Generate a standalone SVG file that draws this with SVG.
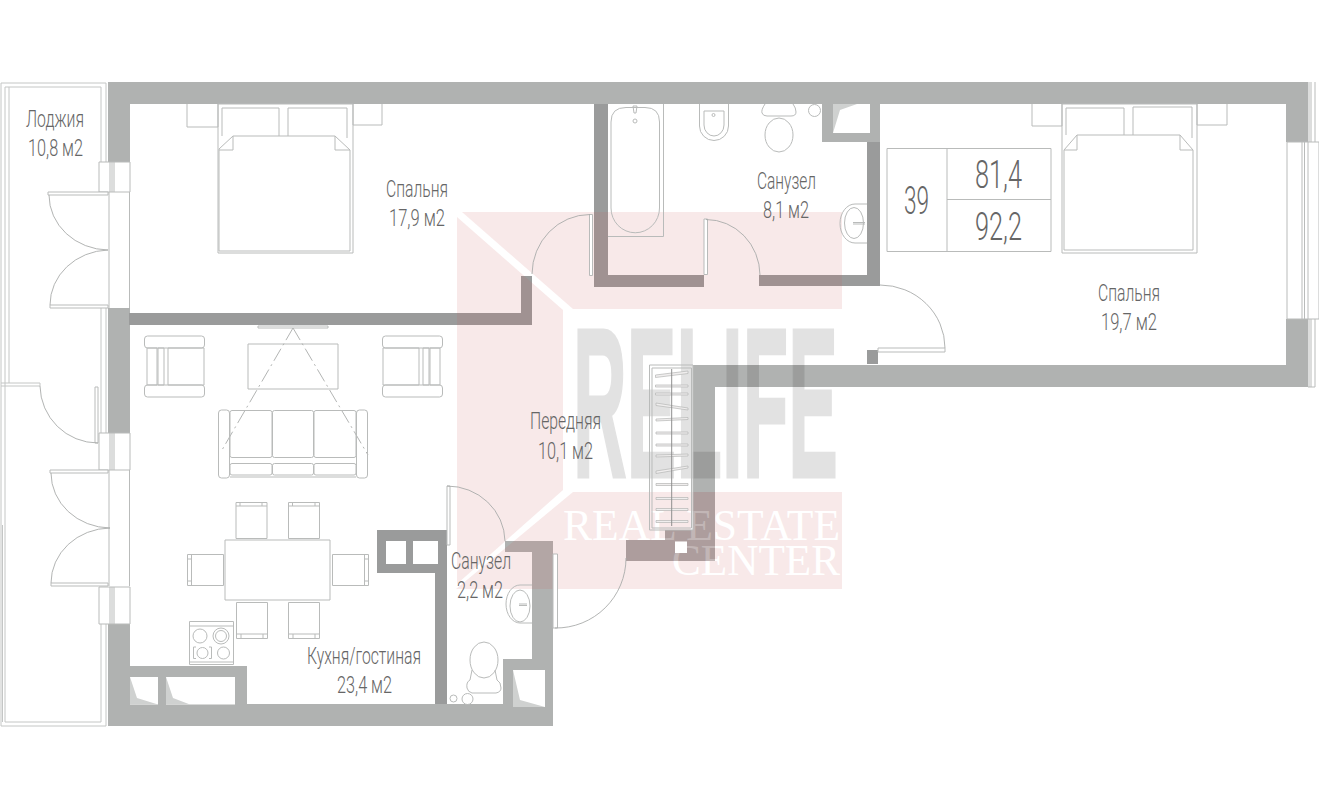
<svg xmlns="http://www.w3.org/2000/svg" width="1319" height="809" viewBox="0 0 1319 809">
<defs>
<clipPath id="lowerBand"><rect x="620" y="492" width="100" height="75"/></clipPath>
</defs>
<style>
.w{fill:#b0b2b1}
.d{fill:#9a9b9b}
.l{fill:#cfd1d0}
.f{fill:none;stroke:#b9bbba;stroke-width:1}
.f2{fill:none;stroke:#c4c6c5;stroke-width:1}
.p{fill:#fff;stroke:#b9bbba;stroke-width:1}
.a{fill:none;stroke:#a9abaa;stroke-width:.9}
.h{fill:#f0eeee;stroke:#b4b6b5;stroke-width:.7}
.t{font-family:Roboto,"Liberation Sans",sans-serif;font-weight:300;font-size:24px;fill:#666}
.n{font-family:Roboto,"Liberation Sans",sans-serif;font-weight:300;font-size:39px;fill:#666}
.s{font-family:"Liberation Serif",serif;font-size:45px;fill:#fff}
</style>
<rect width="1319" height="809" fill="#fff"/>
<g id="walls">
<path class="w" d="M108 82H1308V142H1286V104H130V162H108ZM108 308H130V433H108ZM108 624H130V666H247V704H503V659H532V552H505V541H553V726H108ZM1286 319H1308V387H693V365H1286Z"/>
<path class="w" d="M822 104H880V142H822Z"/>
<path class="d" d="M129 313H521V276H532V325H129Z"/>
<path class="d" d="M594 104H608V275H704V287H594Z"/>
<path class="d" d="M759 275H867V142H880V286H759Z"/>
<path class="d" d="M867 350H878V364H867Z"/>
<path class="d" fill-rule="evenodd" d="M377 530H447V704H435V573H377ZM386 541V564H406V541ZM413 541V564H438V541Z"/>
<path class="w" fill-rule="evenodd" d="M693 365H715V561H626V540H665V530H693ZM675 541.500V553H687V541.500Z"/>
</g>
<g id="shafts">
<path fill="#fff" d="M130 677H158V704.500H130ZM166 677H235V704.500H166ZM513 670H545V707H513ZM833 104H870V133H833Z"/>
<path class="l" d="M130 677L137 698L158 704.500H130ZM166 677L173 698L190 704.500H166ZM513 670L520 700L545 707H513ZM833 104H857L840 110L833 133Z"/>
</g>
<g id="watermark">
<path fill="#c85a5a" opacity=".135" d="M462 212H842V309H573ZM457 217L563 310V490L457 584ZM573 492H842V589H456Z"/>
<text transform="translate(573 476.500) scale(.34 1)" font-family="Liberation Sans,sans-serif" font-weight="700" font-size="214" fill="#000" stroke="#000" stroke-width="3" opacity=".11" textLength="779" lengthAdjust="spacingAndGlyphs">RELIFE</text>
<text class="s" transform="translate(563 540) scale(.93 1)" textLength="298" lengthAdjust="spacingAndGlyphs">REAL ESTATE</text>
<text class="s" transform="translate(672 575) scale(.96 1)" textLength="175" lengthAdjust="spacingAndGlyphs">CENTER</text>
<path clip-path="url(#lowerBand)" fill="#aa9a9a" opacity=".72" d="M693 365H715V561H626V540H665V530H693Z"/>
<path fill="#fff" d="M675 541.500H687V553H675Z"/>
</g>
<g id="loggia">
<path class="f2" d="M106 162V83H1V726H106V624M101 162V87H5V722H101V624M106 308V433M101 308V433M9 87V383M1 383H40V386H1M2.500 525V722"/>
<path class="f" d="M95 387H98V443H95Z"/>
<path class="a" d="M40 386A58 58 0 0 0 98 443"/>
</g>
<g id="balcony-doors">
<path class="f" d="M109 192V308M109 470V586M129.500 192V308M129.500 470V586"/>
<path class="f" d="M99 162H130V192H99ZM110 162V192M112 162V192M114 162V192M99 433H130V470H99ZM110 433V470M112 433V470M114 433V470M99 587H130V624H99ZM110 587V624M112 587V624M114 587V624"/>
<path class="p" d="M48 192H108V195H48ZM50 305H108V308H50ZM50 470H108V473H50ZM51 583H108V586H51Z"/>
<path class="a" d="M49 195A60 55 0 0 0 108 250A60 55 0 0 0 50 305M51 473A60 55 0 0 0 110 528A60 55 0 0 0 51 583"/>
</g>
<g id="bedroom-1">
<path class="f" d="M218 104H353V253H218ZM219 149L233 136H335L350 150V251H219ZM233 136V150H219M335 136V150H350M222 136V108H279V136M288 136V108H347V138M218 104V127H187V104M353 104V125H382V104"/>
</g>
<g id="bedroom-2">
<path class="f" d="M1062 104H1197V253H1062ZM1064 150L1077 135H1180L1193 150V250H1064ZM1077 135V150H1064M1180 135V150H1193M1066 135V108H1124V135M1133 135V107H1192V138M1062 104V126H1032V104M1197 104V125H1227V104"/>
</g>
<g id="east-window">
<path class="f" d="M1287 142H1319V319H1287ZM1302 142V319M1304.500 142V319M1308 142V319M1309 82V142M1311 82V142M1315 82V142M1309 319V387M1311 319V387M1315 319V387M1308 387H1315"/>
</g>
<g id="info-table">
<path class="f" d="M887 148.500H1051V251.500H887ZM947 148.500V251.500M947 199.500H1051"/>
<text class="n" transform="translate(904 214) scale(.57 1)" textLength="44" lengthAdjust="spacingAndGlyphs">39</text>
<text class="n" transform="translate(975 188) scale(.64 1)" textLength="73.400" lengthAdjust="spacingAndGlyphs">81,4</text>
<text class="n" transform="translate(975 240) scale(.64 1)" textLength="73.400" lengthAdjust="spacingAndGlyphs">92,2</text>
</g>
<g id="living">
<path class="f" d="M258 326H328V328H258ZM248 344H338V389H248Z"/>
<path class="a" stroke-dasharray="14 4 2 4" d="M293 328L222 450M293 328L368 455"/>
<g id="armchair-1" class="f">
<rect x="144.500" y="336" width="60" height="12" rx="3"/><rect x="144.500" y="385" width="60" height="12" rx="3"/>
<path d="M147 348H157V385H147ZM158 348H164V385H158ZM168 348H204V385H168Z"/>
</g>
<g id="armchair-2" class="f">
<rect x="382.500" y="336" width="60" height="12" rx="3"/><rect x="382.500" y="385" width="60" height="12" rx="3"/>
<path d="M440 348H430V385H440ZM429 348H423V385H429ZM419 348H383V385H419Z"/>
</g>
<g id="sofa" class="f">
<rect x="218.500" y="410" width="11" height="68" rx="3"/><rect x="356.500" y="410" width="11" height="68" rx="3"/>
<rect x="230" y="410.500" width="42" height="47" rx="2"/><rect x="272.500" y="410.500" width="41" height="47" rx="2"/><rect x="314" y="410.500" width="42" height="47" rx="2"/>
<rect x="230" y="463.500" width="42" height="11.500" rx="2"/><rect x="272.500" y="463.500" width="41" height="11.500" rx="2"/><rect x="314" y="463.500" width="42" height="11.500" rx="2"/>
<path d="M230 477H356"/>
</g>
<g id="dining" class="f">
<path d="M225 540H330V600H225Z"/>
<path d="M236 502.500H267V538.500H236ZM236 506H267M240 502.500V506M262 502.500V506M288.500 502.500H319.500V538.500H288.500ZM288.500 506H319.500M292.500 502.500V506M315 502.500V506"/>
<path d="M236.500 602.500H267.500V638.500H236.500ZM236.500 634H267.500M241 634V638.500M263 634V638.500M288.500 602.500H319.500V638.500H288.500ZM288.500 634H319.500M293 634V638.500M315 634V638.500"/>
<path d="M187.500 554.500H223.500V585.500H187.500ZM191.500 554.500V585.500M187.500 559H191.500M187.500 581H191.500M332.500 554.500H368.500V585.500H332.500ZM364.500 554.500V585.500M364.500 559H368.500M364.500 581H368.500"/>
</g>
<g id="stove" class="f">
<path d="M189.500 621.500H233.500V664.500H189.500ZM189.500 626H233.500M189.500 662H233.500M196 647H193.500V658.500H196M209 647H211.500V658.500H209"/>
<circle cx="200" cy="636" r="7"/><circle cx="221" cy="636" r="8"/><circle cx="221" cy="636" r="5.500"/><circle cx="202.500" cy="653" r="5.500"/><circle cx="223.500" cy="653" r="6"/>
</g>
</g>
<g id="small-bath">
<path class="p" d="M447 486H450V545H447Z"/>
<path class="a" d="M447 486A58 56 0 0 1 505 541"/>
<path class="p" d="M553 554H557.500V628H553Z"/>
<path class="a" d="M555 628A70 70 0 0 0 626 558"/>
<path class="f" d="M532 585H520A14 19 0 0 0 506 604A14 19 0 0 0 520 623H532"/>
<ellipse class="f" cx="520" cy="606" rx="10" ry="16"/>
<path class="f" d="M519 604H527M519 605.500H527"/>
<ellipse class="f" cx="484" cy="660" rx="14" ry="18"/>
<path class="f" d="M472 670L470 680Q466 682 467 688Q468 692 472 693H496Q501 692 501 688Q501 682 497 680L495 670"/>
<circle class="f" cx="453.500" cy="698.500" r="3.500"/><circle class="f" cx="467.500" cy="699" r="5.500"/>
</g>
<g id="main-bath">
<path class="f" d="M608 236.500H663.500V104M611 122Q611 107.500 626 107.500H645Q659.500 107.500 659.500 122V208A24 24.500 0 0 1 611 208Z"/>
<circle class="f" cx="635" cy="121" r="2"/>
<path class="f" d="M633 106L634 113H636L637 106Z"/>
<path class="f" d="M699.500 104V126A14.500 14.500 0 0 0 728.500 126V104M704 111H724V125A10 11 0 0 1 704 125Z"/>
<circle class="f" cx="713.500" cy="115" r="1.500"/>
<path class="f" d="M765 104Q761 110 762 113Q763 116 767 116H791Q796 116 796 112Q796 108 793 104"/>
<ellipse class="f" cx="779" cy="135" rx="14" ry="17"/>
<circle class="f" cx="814.500" cy="110.500" r="6"/>
<path class="f" d="M867 204H855A15 19.500 0 0 0 855 243H867"/>
<ellipse class="f" cx="854" cy="223" rx="9.500" ry="15.500"/>
<path class="f" d="M853 222.500H865M853 224H865"/>
<path class="p" d="M589.500 214.500H592.500V275.500H589.500ZM704 219H707.500V274.500H704Z"/>
<path class="a" d="M590 214.500A58 60 0 0 0 532 274M706 219.500A54 56 0 0 1 760 275"/>
</g>
<g id="east-door">
<path class="p" d="M878 348H945V352H878Z"/>
<path class="a" d="M880 285A65 63 0 0 1 945 348"/>
</g>
<g id="wardrobe">
<path class="f" d="M649.500 365H693V530H649.500ZM652 368H691.500V528H652Z"/>
<path class="h" d="M655.500 375L688 371V373.500L655.500 377.500ZM655.500 385H688V387H655.500ZM655.500 393H688V395H655.500ZM656 403L688 408V410L656 405.500ZM656 419L688 417.500V419.500L656 421ZM656 432H688V434H656ZM656 444H688V446H656ZM656 455L688 454V456L656 457ZM656 471L688 466V468L656 473.500ZM656 483.500H688V485.500H656ZM656 497.500H688V499.500H656ZM656 508.500H688V510.500H656ZM656 520.500H688V522.500H656Z"/>
<path stroke="#8e8e8e" fill="none" d="M671.700 369V526"/>
</g>
<g id="labels">
<text class="t" transform="translate(26 126.700) scale(.67 1)" textLength="86.600" lengthAdjust="spacingAndGlyphs">Лоджия</text>
<text class="t" transform="translate(28 156) scale(.67 1)" textLength="82.100" lengthAdjust="spacingAndGlyphs">10,8 м2</text>
<text class="t" transform="translate(386 196.700) scale(.67 1)" textLength="92.500" lengthAdjust="spacingAndGlyphs">Спальня</text>
<text class="t" transform="translate(389 225.700) scale(.67 1)" textLength="83.600" lengthAdjust="spacingAndGlyphs">17,9 м2</text>
<text class="t" transform="translate(757 189.300) scale(.67 1)" textLength="88" lengthAdjust="spacingAndGlyphs">Санузел</text>
<text class="t" transform="translate(763 218) scale(.67 1)" textLength="68.700" lengthAdjust="spacingAndGlyphs">8,1 м2</text>
<text class="t" transform="translate(1098 300.700) scale(.67 1)" textLength="92.500" lengthAdjust="spacingAndGlyphs">Спальня</text>
<text class="t" transform="translate(1101 330) scale(.67 1)" textLength="83.600" lengthAdjust="spacingAndGlyphs">19,7 м2</text>
<text class="t" transform="translate(530 429) scale(.67 1)" textLength="106" lengthAdjust="spacingAndGlyphs">Передняя</text>
<text class="t" transform="translate(538 459) scale(.67 1)" textLength="82.100" lengthAdjust="spacingAndGlyphs">10,1 м2</text>
<text class="t" transform="translate(451 569.300) scale(.67 1)" textLength="89.600" lengthAdjust="spacingAndGlyphs">Санузел</text>
<text class="t" transform="translate(457 598.300) scale(.67 1)" textLength="68.700" lengthAdjust="spacingAndGlyphs">2,2 м2</text>
<text class="t" transform="translate(307 664.300) scale(.67 1)" textLength="170.100" lengthAdjust="spacingAndGlyphs">Кухня/гостиная</text>
<text class="t" transform="translate(337 693) scale(.67 1)" textLength="82.100" lengthAdjust="spacingAndGlyphs">23,4 м2</text>
</g>
</svg>
